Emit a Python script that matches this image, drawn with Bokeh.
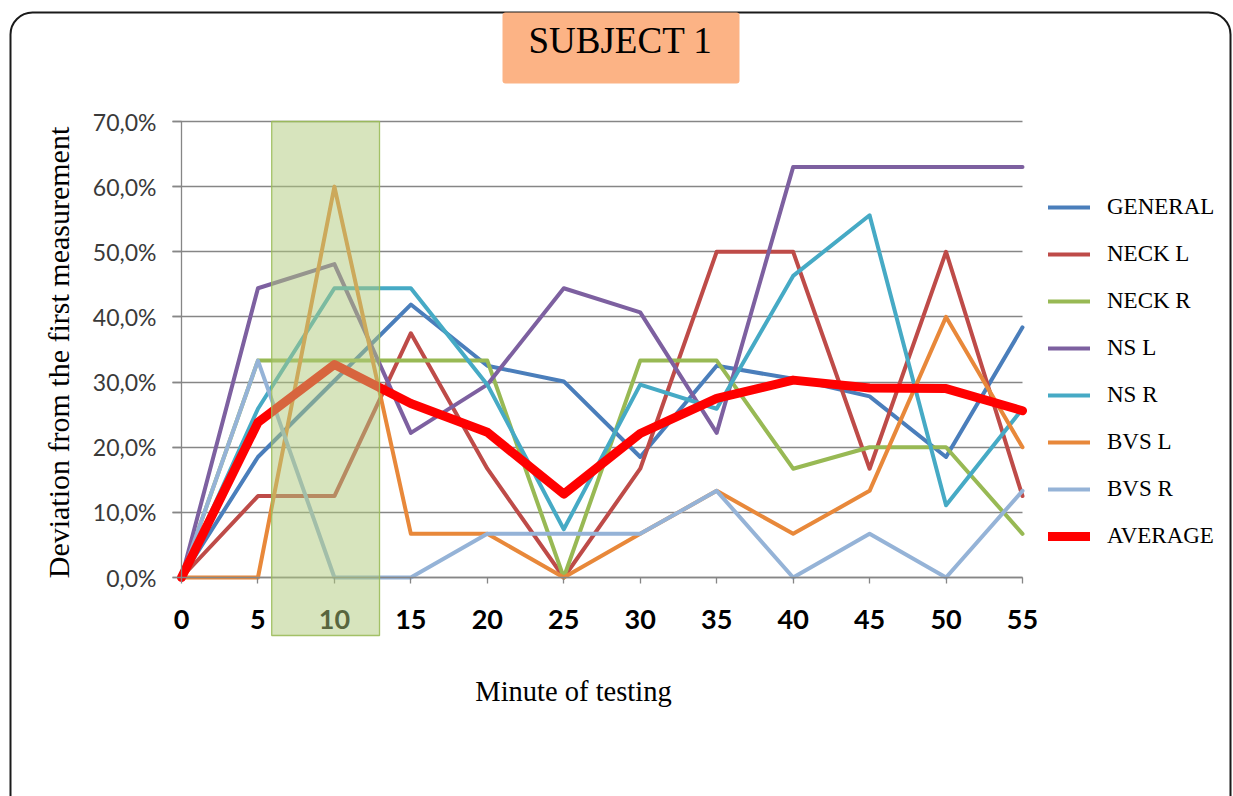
from math import pi
from bokeh.plotting import figure
from bokeh.models import Range1d, FixedTicker, Label, BoxAnnotation
from bokeh.embed import file_html
from bokeh.resources import INLINE

# ---------------- data ----------------
minutes = [0, 5, 10, 15, 20, 25, 30, 35, 40, 45, 50, 55]
general = [0, 18.5, 30.2, 41.9, 32.5, 30.1, 18.5, 32.5, 30.5, 27.8, 18.5, 38.4]
neck_l = [0, 12.5, 12.5, 37.5, 16.7, 0, 16.7, 50.0, 50.0, 16.7, 50.0, 12.5]
neck_r = [0, 33.3, 33.3, 33.3, 33.3, 0, 33.3, 33.3, 16.7, 20.0, 20.0, 6.7]
ns_l = [0, 44.4, 48.1, 22.2, 29.6, 44.4, 40.7, 22.2, 63.0, 63.0, 63.0, 63.0]
ns_r = [0, 25.9, 44.4, 44.4, 29.6, 7.4, 29.6, 25.9, 46.3, 55.6, 11.1, 25.9]
bvs_l = [0, 0, 60.0, 6.7, 6.7, 0, 6.7, 13.3, 6.7, 13.3, 40.0, 20.0]
bvs_r = [0, 33.3, 0, 0, 6.7, 6.7, 6.7, 13.3, 0, 6.7, 0, 13.3]
average = [0, 23.8, 32.7, 26.7, 22.3, 12.8, 22.1, 27.5, 30.3, 29.1, 29.0, 25.6]

series_names = ["GENERAL", "NECK L", "NECK R", "NS L", "NS R", "BVS L", "BVS R", "AVERAGE"]
series_values = [general, neck_l, neck_r, ns_l, ns_r, bvs_l, bvs_r, average]
series_colors = ["#4a7ebb", "#be4b48", "#98b954", "#7d60a0", "#46aac5",
                 "#e8883a", "#95b3d7", "#ff0000"]

x_ticks = [0, 5, 10, 15, 20, 25, 30, 35, 40, 45, 50, 55]
y_ticks = [0, 10, 20, 30, 40, 50, 60, 70]
y_tick_labels = ["0,0%", "10,0%", "20,0%", "30,0%", "40,0%", "50,0%", "60,0%", "70,0%"]

title_text = "SUBJECT 1"
x_title = "Minute of testing"
y_title = "Deviation from the first measurement"

highlight_start, highlight_end = 5.9, 12.95

# ---------------- layout (pixels) ----------------
W, H = 1233, 796
PX_X0, PX_X55 = 181, 1022      # page x of minute 0 / 55
PX_Y0, PX_Y70 = 577, 121       # page y of 0 % / 70 %
ax = (PX_X55 - PX_X0) / 55.0
ay = (PX_Y0 - PX_Y70) / 70.0
X_MIN, X_MAX = -PX_X0 / ax, 55 + (W - PX_X55) / ax
Y_MIN, Y_MAX = -(H - PX_Y0) / ay, 70 + PX_Y70 / ay
hl_bottom = -(635 - PX_Y0) / ay


def sy(py):
    return H - py


p = figure(width=W, height=H, output_backend="svg", toolbar_location=None,
           x_range=Range1d(X_MIN, X_MAX), y_range=Range1d(Y_MIN, Y_MAX),
           min_border=0)
p.outline_line_color = None
p.background_fill_color = "white"
p.border_fill_color = "white"

# axes (fixed at the data origin)
xa = p.xaxis[0]
xa.fixed_location = 0
xa.bounds = (0, 55)
xa.ticker = FixedTicker(ticks=x_ticks)
xa.minor_tick_line_color = None
xa.major_tick_in = 0
xa.major_tick_out = 6
xa.axis_line_color = "#868686"
xa.axis_line_width = 1.3
xa.major_tick_line_color = "#868686"
xa.major_tick_line_width = 1.3
xa.major_label_text_font = "Lato"
xa.major_label_text_font_style = "bold"
xa.major_label_text_font_size = "27px"
xa.major_label_text_color = "#000000"
xa.major_label_standoff = 26

ya = p.yaxis[0]
ya.fixed_location = 0
ya.bounds = (0, 70)
ya.ticker = FixedTicker(ticks=y_ticks)
ya.major_label_overrides = {t: s for t, s in zip(y_ticks, y_tick_labels)}
ya.minor_tick_line_color = None
ya.major_tick_in = 0
ya.major_tick_out = 9
ya.axis_line_color = "#868686"
ya.axis_line_width = 1.3
ya.major_tick_line_color = "#868686"
ya.major_tick_line_width = 1.3
ya.major_label_text_font = "Lato"
ya.major_label_text_font_size = "23px"
ya.major_label_text_color = "#3a3a3a"
ya.major_label_standoff = 16

p.xgrid.grid_line_color = None
yg = p.ygrid[0]
yg.ticker = FixedTicker(ticks=y_ticks)
grid_left = -(PX_X0 - 172) / ax
if "cross_bounds" in yg.properties():
    yg.cross_bounds = (grid_left, 55)
    yg.grid_line_color = "#868686"
    yg.grid_line_width = 1.3
else:
    yg.grid_line_color = None
    p.segment(x0=[grid_left] * len(y_ticks), x1=[55] * len(y_ticks), y0=y_ticks, y1=y_ticks,
              line_color="#868686", line_width=1.3)

# lines
for name, vals, col in zip(series_names, series_values, series_colors):
    lw = 9 if name == "AVERAGE" else 4
    p.line(minutes, vals, line_color=col, line_width=lw, line_join="round",
           line_cap="round", legend_label=name)

# highlight box
p.add_layout(BoxAnnotation(left=highlight_start, right=highlight_end, bottom=hl_bottom, top=70,
                           fill_color="#afc97b", fill_alpha=0.5,
                           line_color="#9bbb59", line_alpha=0.9, line_width=1.3))

# legend
lg = p.legend[0]
lg.location = (1048, sy(549))
lg.border_line_color = None
lg.background_fill_alpha = 0
lg.padding = 0
lg.margin = 0
lg.label_text_font = "Liberation Serif"
lg.label_text_font_size = "23px"
lg.label_text_color = "#000000"
lg.glyph_width = 42
lg.glyph_height = 26
lg.label_height = 26
lg.spacing = 21
lg.label_standoff = 17

# outer rounded frame
p.add_layout(BoxAnnotation(left=10, right=1230, top=sy(12), bottom=-40,
                           left_units="screen", right_units="screen",
                           top_units="screen", bottom_units="screen",
                           fill_color=None, line_color="#1a1a1a", line_alpha=1.0, line_width=2,
                           border_radius=22, level="underlay"))

# title box
p.add_layout(BoxAnnotation(left=502, right=739, top=sy(12), bottom=sy(83),
                           left_units="screen", right_units="screen",
                           top_units="screen", bottom_units="screen",
                           fill_color="#fcb385", fill_alpha=1.0, line_color=None,
                           border_radius=3))
p.add_layout(Label(x=620, y=sy(40), x_units="screen", y_units="screen",
                   text=title_text, text_align="center", text_baseline="middle",
                   text_font="Liberation Serif", text_font_size="37px", text_color="#000000"))

# axis titles
p.add_layout(Label(x=573, y=sy(691), x_units="screen", y_units="screen",
                   text=x_title, text_align="center", text_baseline="middle",
                   text_font="Liberation Serif", text_font_size="28.5px", text_color="#000000"))
p.add_layout(Label(x=58, y=sy(352), x_units="screen", y_units="screen",
                   text=y_title, text_align="center", text_baseline="middle",
                   angle=pi / 2, text_font="Liberation Serif", text_font_size="30px",
                   text_color="#000000"))

open("out.html", "w").write(file_html(p, INLINE))
